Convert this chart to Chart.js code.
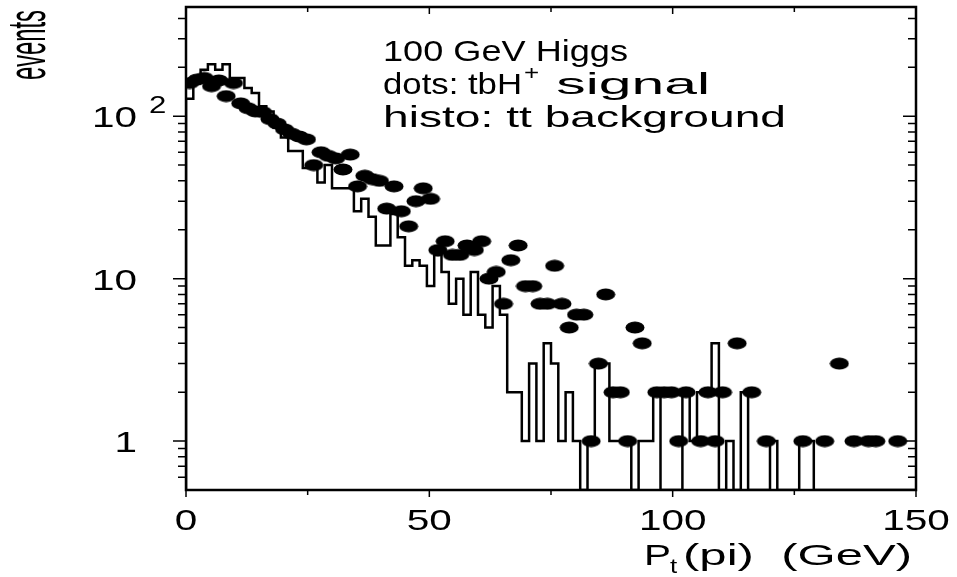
<!DOCTYPE html>
<html><head><meta charset="utf-8">
<script src="https://cdn.jsdelivr.net/npm/chart.js@4/dist/chart.umd.min.js"></script>
<style>html,body{margin:0;padding:0;background:#fff;}#wrap{width:957px;height:577px;}</style>
</head><body><div id="wrap"><canvas id="c" width="957" height="577"></canvas></div>
<script>
// ---- data (1.5 GeV bins, 0-150 GeV) ----
const binCenters = [
  0.75, 2.25, 3.75, 5.25, 6.75, 8.25, 9.75, 11.25, 12.75, 14.25,
  15.75, 17.25, 18.75, 20.25, 21.75, 23.25, 24.75, 26.25, 27.75, 29.25,
  30.75, 32.25, 33.75, 35.25, 36.75, 38.25, 39.75, 41.25, 42.75, 44.25,
  45.75, 47.25, 48.75, 50.25, 51.75, 53.25, 54.75, 56.25, 57.75, 59.25,
  60.75, 62.25, 63.75, 65.25, 66.75, 68.25, 69.75, 71.25, 72.75, 74.25,
  75.75, 77.25, 78.75, 80.25, 81.75, 83.25, 84.75, 86.25, 87.75, 89.25,
  90.75, 92.25, 93.75, 95.25, 96.75, 98.25, 99.75, 101.25, 102.75, 104.25,
  105.75, 107.25, 108.75, 110.25, 111.75, 113.25, 114.75, 116.25, 117.75, 119.25,
  120.75, 122.25, 123.75, 125.25, 126.75, 128.25, 129.75, 131.25, 132.75, 134.25,
  135.75, 137.25, 138.75, 140.25, 141.75, 143.25, 144.75, 146.25, 147.75, 149.25
];
const binHalfWidth = 0.75;

// tt background (histogram)
const background = [
  128, 165, 193, 209, 193, 209, 172, 172, 149, 139,
  115, 107, 85, 74, 61, 61, 48, 48, 39, 50,
  36, 36, 36, 26, 31, 24, 16, 16, 25, 18,
  12, 13, 12, 9, 14, 11, 7, 10, 6, 11,
  6, 5, 9, 6, 2, 2, 1, 3, 1, 4,
  3, 1, 2, 1, 0, 1, 3, 3, 1, 1,
  1, 0, 1, 1, 2, 0, 0, 0, 2, 1,
  2, 2, 4, 0, 1, 0, 2, 0, 0, 0,
  1, 0, 0, 0, 1, 1, 0, 0, 0, 0,
  0, 0, 0, 0, 0, 0, 0, 0, 0, 0
];

// tbH+ signal (dots), null = empty bin
const signal = [
  160, 168, 172, 153, 166, 133, 160, 120, 112, 107,
  106, 96, 90, 83, 78, 75, 72, 50, 60, 57,
  55, 47, 58, 37, 43, 41, 40, 27, 37, 26,
  21, 30, 36, 31, 15, 17, 14, 14, 16, 15,
  17, 10, 11, 7, 13, 16, 9, 9, 7, 7,
  12, 7, 5, 6, 6, 1, 3, 8, 2, 2,
  1, 5, 4, null, 2, 2, 2, 1, 2, null,
  1, 2, 1, 2, null, 4, null, 2, null, 1,
  null, null, null, null, 1, null, null, 1, null, 3,
  null, 1, null, 1, 1, null, null, 1, null, null
];

const xRange = [0, 150];
const yRange = [0.5, 470];
const xMajorTicks = [0, 50, 100, 150];
const xMinorTicks = [25, 75, 125];
const yMajorTicks = [1, 10, 100];
const yMinorTicks = [0.6, 0.7, 0.8, 0.9, 2, 3, 4, 5, 6, 7, 8, 9, 20, 30, 40, 50, 60, 70, 80, 90, 200, 300, 400];
const xTickLabels = ['0', '50', '100', '150'];
const yTickLabels = ['1', '10', '10'];
const annotation = ['100 GeV Higgs', 'dots: tbH', '+', ' signal', 'histo: tt background'];

// ---- build datasets ----
const histPts = [{x: xRange[0], y: yRange[0]}];
background.forEach((v, i) => histPts.push({x: binCenters[i] - binHalfWidth, y: v > 0 ? v : yRange[0]}));
histPts.push({x: xRange[1], y: yRange[0]});

const dotPts = [];
signal.forEach((v, i) => { if (v !== null && v > 0) dotPts.push({x: binCenters[i], y: v}); });

// ellipse marker
const dot = document.createElement('canvas');
dot.width = 20; dot.height = 13;
(function(){ const g = dot.getContext('2d'); g.fillStyle = '#000'; g.beginPath(); g.ellipse(10, 6.5, 9.5, 6, 0, 0, Math.PI*2); g.fill(); })();

const FONT = '"Liberation Sans", Arial, Helvetica, sans-serif';
function txt(ctx, s, x, y, size, opts) {
  opts = opts || {};
  ctx.save();
  ctx.font = size + 'px ' + FONT;
  ctx.fillStyle = '#000';
  const m = ctx.measureText(s).width;
  const sx = opts.width ? opts.width / m : (opts.sx || 1);
  ctx.translate(x, y);
  if (opts.rot) ctx.rotate(opts.rot);
  ctx.scale(sx, 1);
  ctx.textBaseline = 'alphabetic';
  ctx.textAlign = opts.align || 'left';
  ctx.fillText(s, 0, 0);
  ctx.restore();
}

const framePlugin = {
  id: 'frame',
  afterDatasetsDraw(chart) {
    const {ctx, chartArea: a, scales: {x, y}} = chart;
    ctx.save();
    ctx.strokeStyle = '#000';
    ctx.lineWidth = 2.5;
    ctx.strokeRect(a.left, a.top, a.right - a.left, a.bottom - a.top);
    ctx.lineWidth = 1.5;
    ctx.beginPath();
    const yt = (v, len) => { const p = y.getPixelForValue(v);
      ctx.moveTo(a.left - len, p); ctx.lineTo(a.left, p);
      ctx.moveTo(a.right - len, p); ctx.lineTo(a.right, p); };
    yMajorTicks.forEach(v => yt(v, 13));
    yMinorTicks.forEach(v => yt(v, 8));
    const xt = (v, len) => { const p = x.getPixelForValue(v);
      ctx.moveTo(p, a.bottom); ctx.lineTo(p, a.bottom + len);
      ctx.moveTo(p, a.top); ctx.lineTo(p, a.top + len); };
    xMajorTicks.forEach(v => xt(v, 7));
    xMinorTicks.forEach(v => xt(v, 5));
    ctx.stroke();
    ctx.restore();

    // tick labels
    xMajorTicks.forEach((v, i) => txt(ctx, xTickLabels[i], x.getPixelForValue(v), 530, 30, {align: 'center', sx: 1.35}));
    yMajorTicks.forEach((v, i) => txt(ctx, yTickLabels[i], 137, y.getPixelForValue(v) + 11, 30, {align: 'right', sx: 1.35}));
    txt(ctx, '2', 149, y.getPixelForValue(100) - 3, 24, {sx: 1.3});

    // axis titles
    txt(ctx, 'P', 644, 565, 30, {sx: 1.35});
    txt(ctx, 't', 670, 573, 20, {sx: 1.3});
    txt(ctx, '(pi)  (GeV)', 683, 565, 30, {width: 229});
    txt(ctx, 'events', 45, 80, 54, {rot: -Math.PI/2, width: 70});

    // annotation
    txt(ctx, annotation[0], 383, 61, 30, {width: 245});
    txt(ctx, annotation[1], 383, 94, 30, {width: 139});
    txt(ctx, annotation[2], 524, 80, 20, {sx: 1.3});
    txt(ctx, annotation[3], 540, 94, 30, {width: 170});
    txt(ctx, annotation[4], 383, 127, 30, {width: 403});
  }
};

new Chart(document.getElementById('c'), {
  data: {
    datasets: [
      {type: 'scatter', label: 'tbH+ signal', data: dotPts, pointStyle: dot, pointRadius: 6, pointHoverRadius: 6,
       backgroundColor: '#000', borderColor: '#000', order: 0},
      {type: 'line', label: 'tt background', data: histPts, stepped: 'before', borderColor: '#000', borderWidth: 2.5,
       pointRadius: 0, fill: false, tension: 0, order: 1}
    ]
  },
  options: {
    responsive: false, animation: false, devicePixelRatio: 1,
    layout: {padding: {left: 186, right: 41, top: 5, bottom: 87}},
    plugins: {legend: {display: false}, tooltip: {enabled: false}},
    events: [],
    scales: {
      x: {type: 'linear', min: xRange[0], max: xRange[1], display: false},
      y: {type: 'logarithmic', min: yRange[0], max: yRange[1], display: false}
    }
  },
  plugins: [framePlugin]
});
</script></body></html>
